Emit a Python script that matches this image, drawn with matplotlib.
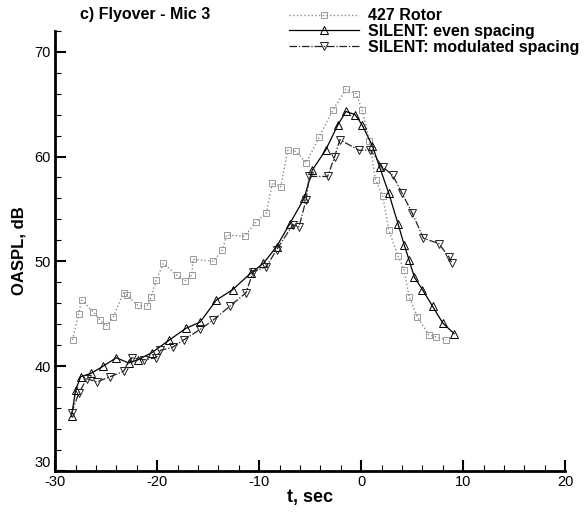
import matplotlib
matplotlib.use("Agg")
import matplotlib.pyplot as plt
from matplotlib.ticker import MultipleLocator

plt.rcParams['font.family'] = ['Liberation Sans', 'DejaVu Sans']
plt.rcParams['axes.unicode_minus'] = False

# 427 Rotor
t_rotor = [-28.3, -27.7, -27.4, -26.3, -25.6, -25.0, -24.3, -23.3, -23.0, -21.9,
           -21.0, -20.6, -20.1, -19.4, -18.1, -17.3, -16.6, -16.5, -14.5, -13.6,
           -13.2, -11.4, -10.3, -9.3, -8.7, -7.9, -7.2, -6.4, -5.4, -4.1,
           -2.8, -1.5, -0.5, 0.1, 0.8, 1.4, 2.1, 2.7, 3.6, 4.2,
           4.7, 5.5, 6.6, 7.3, 8.3]
db_rotor = [42.5, 45.0, 46.3, 45.2, 44.4, 43.8, 44.7, 47.0, 46.8, 45.8,
            45.7, 46.6, 48.2, 49.8, 48.7, 48.1, 48.7, 50.2, 50.0, 51.1,
            52.5, 52.4, 53.8, 54.6, 57.5, 57.1, 60.6, 60.5, 59.4, 61.9,
            64.4, 66.4, 66.0, 64.4, 61.5, 57.8, 56.2, 53.0, 50.5, 49.2,
            46.6, 44.7, 43.0, 42.8, 42.5]

# SILENT: even spacing
t_even = [-28.4, -28.0, -27.5, -26.5, -25.3, -24.0, -22.8, -21.9, -20.5, -18.8,
          -17.2, -15.8, -14.2, -12.6, -10.8, -9.6, -8.3, -7.0, -5.6, -4.8,
          -3.5, -2.3, -1.5, -0.6, 0.1, 1.1, 1.8, 2.7, 3.6, 4.2,
          4.7, 5.2, 6.0, 7.0, 8.0, 9.1]
db_even = [35.2, 37.7, 39.0, 39.3, 40.0, 40.8, 40.3, 40.6, 41.3, 42.5,
           43.6, 44.2, 46.3, 47.3, 48.9, 49.8, 51.4, 53.6, 56.0, 58.7,
           60.6, 63.0, 64.3, 64.0, 63.0, 61.0, 59.0, 56.5, 53.6, 51.6,
           50.1, 48.5, 47.3, 45.7, 44.1, 43.1]

# SILENT: modulated spacing
t_mod = [-28.4, -27.7, -26.9, -25.9, -24.6, -23.3, -22.5, -21.3, -20.1, -19.7,
         -18.5, -17.4, -15.8, -14.5, -12.9, -11.3, -10.6, -9.3, -8.3, -6.7,
         -6.1, -5.4, -5.1, -3.3, -2.6, -2.1, -0.2, 0.9, 2.1, 3.1,
         4.0, 5.0, 6.1, 7.6, 8.6, 8.9]
db_mod = [35.5, 37.4, 38.8, 38.5, 39.0, 39.5, 40.8, 40.6, 40.8, 41.5,
          41.8, 42.5, 43.5, 44.4, 45.7, 47.0, 49.0, 49.5, 51.1, 53.5,
          53.3, 55.9, 58.1, 58.1, 60.0, 61.6, 60.6, 60.6, 59.0, 58.2,
          56.5, 54.6, 52.2, 51.7, 50.4, 49.8]

y_ticks = [30, 40, 50, 60, 70]

fig = plt.figure(figsize=(5.87, 5.13), dpi=100)
ax = fig.add_axes([0.094, 0.082, 0.869, 0.858])

ax.plot(t_rotor, db_rotor, color='#8a8a8a', linestyle=':', linewidth=1.0,
        marker='s', markersize=5, markerfacecolor='none', markeredgecolor='#9a9a9a',
        markeredgewidth=0.7, label='427 Rotor')
ax.plot(t_even, db_even, color='black', linestyle='-', linewidth=0.9,
        marker='^', markersize=5.5, markerfacecolor='none', markeredgecolor='black',
        markeredgewidth=0.7, label='SILENT: even spacing')
ax.plot(t_mod, db_mod, color='#222222', linestyle=(0, (6, 1.5, 1, 1.5)), linewidth=0.9,
        marker='v', markersize=5.5, markerfacecolor='none', markeredgecolor='#222222',
        markeredgewidth=0.7, label='SILENT: modulated spacing')

ax.set_xlim(-30, 20)
ax.set_ylim(30, 72)
ax.xaxis.set_major_locator(MultipleLocator(10))
ax.xaxis.set_minor_locator(MultipleLocator(2))
# bottom "30" is drawn separately, raised above the "-30" x label
ax.set_yticks(y_ticks, [''] + [str(v) for v in y_ticks[1:]])
ax.yaxis.set_minor_locator(MultipleLocator(2))
ax.tick_params(which='major', direction='in', length=8, width=1.5, labelsize=10.5, pad=3)
ax.tick_params(which='minor', direction='in', length=4, width=0.8)
for s in ['top', 'right']:
    ax.spines[s].set_visible(False)
for s in ['left', 'bottom']:
    ax.spines[s].set_linewidth(2)

ax.annotate(str(y_ticks[0]), xy=(0, y_ticks[0]), xycoords=('axes fraction', 'data'),
            xytext=(-3, 1), textcoords='offset points', ha='right', va='bottom',
            fontsize=10.5)

ax.set_xlabel('t, sec', fontsize=13, fontweight='bold', labelpad=0)
ax.set_ylabel('OASPL, dB', fontsize=12, fontweight='bold', labelpad=6)

fig.text(0.136, 0.972, 'c) Flyover - Mic 3', fontsize=11.5, fontweight='bold',
         ha='left', va='center')
fig.legend(loc='upper left', bbox_to_anchor=(0.468, 1.012), frameon=False,
           prop={'weight': 'bold', 'size': 11.5}, handlelength=4.4,
           handletextpad=0.55, labelspacing=0.05, numpoints=1)

fig.savefig('out.png', dpi=100)
